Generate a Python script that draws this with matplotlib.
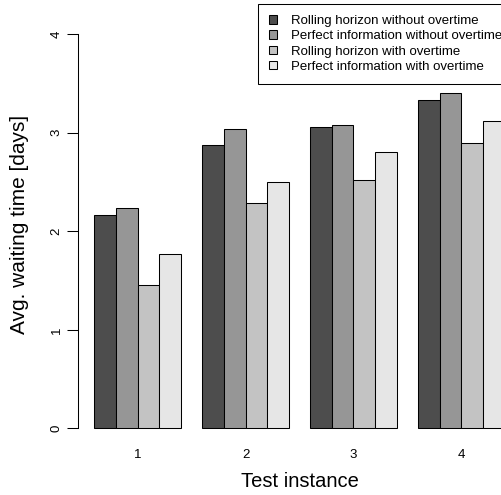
import numpy as np
import matplotlib
matplotlib.use("Agg")
import matplotlib.pyplot as plt
from matplotlib.patches import Patch

plt.rcParams["font.family"] = ["Liberation Sans", "DejaVu Sans"]

# dados
instancias = ["1", "2", "3", "4"]
series = [
    "Rolling horizon without overtime",
    "Perfect information without overtime",
    "Rolling horizon with overtime",
    "Perfect information with overtime",
]
rh_sem = [2.17, 2.88, 3.06, 3.33]
pi_sem = [2.24, 3.04, 3.08, 3.40]
rh_com = [1.46, 2.29, 2.52, 2.90]
pi_com = [1.77, 2.50, 2.80, 3.12]
valores = [rh_sem, pi_sem, rh_com, pi_com]
cores = ["#4D4D4D", "#969696", "#C3C3C3", "#E6E6E6"]

W, H = 501, 495
fig = plt.figure(figsize=(W / 100, H / 100), dpi=100)
ax = fig.add_axes([78 / W, (H - 444.1) / H, (521 - 78) / W, (444.1 - 18.5) / H])

n = len(series)
for j in range(n):
    x = np.arange(len(instancias)) * (n + 1) + 1 + j
    ax.bar(x, valores[j], width=1, align="edge", color=cores[j],
           edgecolor="black", linewidth=0.75)

centros = np.arange(len(instancias)) * (n + 1) + 1 + n / 2
ax.set_xticks(centros)
ax.set_xticklabels(instancias, fontsize=9.5)
ax.tick_params(axis="x", length=0, pad=3.5)

ax.set_xlim(0.24, 20.76)
ax.set_ylim(-0.16, 4.16)
ax.set_yticks([0, 1, 2, 3, 4])
ax.set_yticklabels(["0", "1", "2", "3", "4"], rotation=90, va="center", fontsize=9.5)
ax.tick_params(axis="y", length=8, width=0.75, pad=3)

for s in ["top", "right", "bottom"]:
    ax.spines[s].set_visible(False)
ax.spines["left"].set_bounds(0, 4)
ax.spines["left"].set_linewidth(0.75)

ax.set_xlabel("Test instance", fontsize=14.5)
ax.xaxis.set_label_coords(0.5, -0.088)
ax.xaxis.label.set_va("center")
ax.set_ylabel("Avg. waiting time [days]", fontsize=15)
ax.yaxis.set_label_coords(-0.131, 0.515)
ax.yaxis.label.set_va("center")

# legenda (cortada na borda direita, como no original)
handles = [Patch(facecolor=c, edgecolor="black", linewidth=0.75) for c in cores]
leg = fig.legend(handles, series, loc="upper left",
                 bbox_to_anchor=(258.3 / W, 1 - 4 / H), bbox_transform=fig.transFigure,
                 fontsize=9.5, frameon=True, fancybox=False, edgecolor="black",
                 framealpha=1, borderpad=0.83, borderaxespad=0,
                 handlelength=0.62, handleheight=0.62, handletextpad=1.05,
                 labelspacing=0.25)
leg.get_frame().set_linewidth(0.75)

fig.savefig("out.png", dpi=100)
